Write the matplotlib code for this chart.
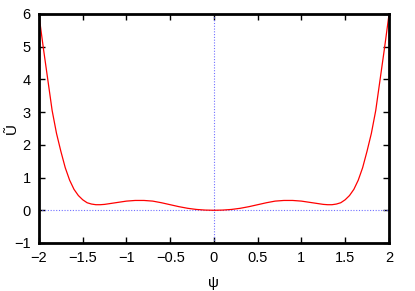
import matplotlib.pyplot as plt

# curve
psi = [-2.0, -1.95, -1.9, -1.85, -1.8, -1.75, -1.7, -1.65, -1.6, -1.55, -1.5,
       -1.45, -1.4, -1.35, -1.3, -1.25, -1.2, -1.1, -1.0, -0.9, -0.8, -0.7,
       -0.6, -0.5, -0.4, -0.3, -0.2, -0.1, 0.0,
       0.1, 0.2, 0.3, 0.4, 0.5, 0.6, 0.7, 0.8, 0.9, 1.0, 1.1, 1.2, 1.25,
       1.3, 1.35, 1.4, 1.45, 1.5, 1.55, 1.6, 1.65, 1.7, 1.75, 1.8, 1.85,
       1.9, 1.95, 2.0]
u = [5.95, 4.95, 4.0, 3.05, 2.35, 1.8, 1.3, 0.92, 0.64, 0.45, 0.32,
     0.23, 0.19, 0.17, 0.17, 0.18, 0.2, 0.24, 0.28, 0.3, 0.3, 0.28,
     0.23, 0.17, 0.11, 0.06, 0.025, 0.006, 0.0,
     0.006, 0.025, 0.06, 0.11, 0.17, 0.23, 0.28, 0.3, 0.3, 0.28, 0.24, 0.2, 0.18,
     0.17, 0.17, 0.19, 0.23, 0.32, 0.45, 0.64, 0.92, 1.3, 1.8, 2.35, 3.05,
     4.0, 4.95, 5.95]
xticks = [-2, -1.5, -1, -0.5, 0, 0.5, 1, 1.5, 2]
xticklabels = ['−2', '−1.5', '−1', '−0.5', '0', '0.5', '1', '1.5', '2']
yticks = [-1, 0, 1, 2, 3, 4, 5, 6]

plt.rcParams['font.family'] = ['Liberation Sans', 'DejaVu Sans']
fig = plt.figure(figsize=(4.15, 2.91), dpi=100)
ax = fig.add_axes([0.094, 0.165, 0.843, 0.787])

ax.axhline(0, color='#7070ff', linestyle=(0, (1, 1.5)), linewidth=0.8)
ax.axvline(0, color='#7070ff', linestyle=(0, (1, 1.5)), linewidth=0.8)
ax.plot(psi, u, color='red', linewidth=0.9)

ax.set_xlim(-2, 2)
ax.set_ylim(-1, 6)
ax.set_xticks(xticks)
ax.set_xticklabels(xticklabels)
ax.set_yticks(yticks)
ax.tick_params(direction='in', top=True, right=True, length=4, width=1,
               labelsize=10.5, pad=6)
for s in ax.spines.values():
    s.set_linewidth(2)

ax.set_xlabel('ψ', fontsize=11, labelpad=8)
fig.text(12 / 415, 0.56, 'Ũ', fontsize=11, rotation=90, ha='center', va='center')

fig.savefig('out.png', dpi=100)
